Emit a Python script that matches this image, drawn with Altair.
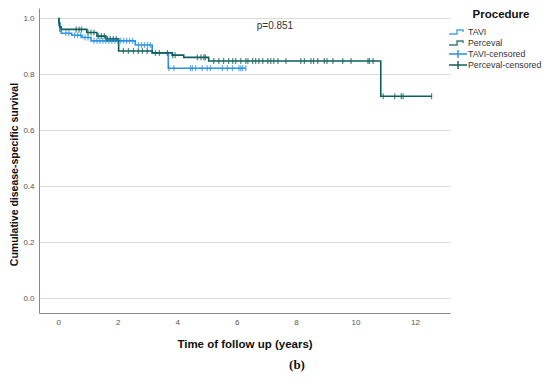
import altair as alt
import pandas as pd

# ---- data ----
tavi_time = [0, 0.02, 0.05, 0.10, 0.45, 0.80, 1.10, 2.59, 3.16, 3.70, 6.31]
tavi_surv = [1.0, 0.975, 0.955, 0.947, 0.940, 0.932, 0.920, 0.905, 0.877, 0.822, 0.822]

perc_time = [0, 0.02, 0.05, 0.10, 0.96, 1.30, 1.60, 2.03, 3.16, 3.83, 4.22, 5.06, 10.85, 12.56]
perc_surv = [1.0, 0.985, 0.970, 0.961, 0.950, 0.937, 0.927, 0.884, 0.877, 0.869, 0.861, 0.848, 0.722, 0.722]

tavi_cens = [0.25, 0.35, 0.55, 0.65, 0.75, 0.9, 1.0, 1.2, 1.3, 1.4, 1.5, 1.6, 1.7, 1.8, 1.9,
             2.0, 2.1, 2.2, 2.3, 2.4, 2.5, 2.7, 2.8, 2.9, 3.0, 3.1, 3.72, 3.89, 4.45, 4.51,
             4.62, 4.84, 5.01, 5.12, 5.52, 5.69, 5.86, 6.08, 6.14, 6.2, 6.31]
perc_cens = [0.6, 0.7, 0.78, 1.0, 1.1, 1.2, 1.35, 1.45, 1.55, 1.65, 1.75, 1.85, 1.95, 2.19,
             2.36, 2.53, 2.69, 2.83, 2.99, 3.27, 3.4, 3.67, 3.85, 3.93, 4.68, 4.8, 4.9, 4.95,
             5.23, 5.4, 5.56, 5.73, 5.87, 5.97, 6.14, 6.31, 6.38, 6.54, 6.64, 6.75, 6.88,
             7.05, 7.15, 7.25, 7.39, 7.66, 8.16, 8.28, 8.5, 8.59, 8.73, 8.95, 9.04, 9.24,
             9.57, 9.85, 10.42, 10.47, 10.59, 10.93, 11.32, 11.54, 11.6, 12.56]

groups = ["TAVI", "Perceval"]
legend_items = ["TAVI", "Perceval", "TAVI-censored", "Perceval-censored"]
legend_title = "Procedure"
x_ticks = [0, 2, 4, 6, 8, 10, 12]
y_ticks = [0.0, 0.2, 0.4, 0.6, 0.8, 1.0]
p_label = "p=0.851"


def step_value(times, surv, t):
    v = surv[0]
    for tt, ss in zip(times, surv):
        if tt <= t:
            v = ss
    return v


curve_rows = []
for g, ts, ss in [("TAVI", tavi_time, tavi_surv), ("Perceval", perc_time, perc_surv)]:
    for t, s in zip(ts, ss):
        curve_rows.append({"time": t, "surv": s, "group": g})
curves = pd.DataFrame(curve_rows)

cens_rows = []
for g, cs, ts, ss in [("TAVI", tavi_cens, tavi_time, tavi_surv),
                      ("Perceval", perc_cens, perc_time, perc_surv)]:
    for c in cs:
        cens_rows.append({"time": c, "surv": step_value(ts, ss, c), "group": g})
cens = pd.DataFrame(cens_rows)

leg = pd.DataFrame({"item": legend_items})

line_colors = ["#2b91e0", "#0e5f5c"]
xscale = alt.Scale(domain=[-0.65, 13.18], nice=False, zero=False)
yscale = alt.Scale(domain=[-0.053, 1.0375], nice=False, zero=False)

x_axis = alt.Axis(values=x_ticks, title="Time of follow up (years)", grid=False, ticks=False,
                  labelFontSize=8, labelColor="#555", labelPadding=5, labelFont="Liberation Sans",
                  domainColor="#8a8a8a", titleFont="Liberation Sans", titleFontSize=11.5,
                  titleFontWeight="bold", titleColor="#111", titlePadding=12)
y_axis = alt.Axis(values=y_ticks, format=".1f", title="Cumulative disease-specific survival",
                  grid=True, gridColor="#d9d9d9", ticks=False, labelFontSize=8, labelColor="#555",
                  labelPadding=5, labelFont="Liberation Sans", domainColor="#8a8a8a",
                  titleFont="Liberation Sans", titleFontSize=10.5, titleFontWeight="bold",
                  titleColor="#111", titlePadding=3, titleY=166)

color_lines = alt.Color("group:N", scale=alt.Scale(domain=groups, range=line_colors), legend=None)

lines = alt.Chart(curves).mark_line(interpolate="step-after", strokeWidth=1.6).encode(
    x=alt.X("time:Q", scale=xscale, axis=x_axis),
    y=alt.Y("surv:Q", scale=yscale, axis=y_axis),
    color=color_lines,
    detail="group:N",
)

ticks = alt.Chart(cens).mark_tick(orient="vertical", size=6, thickness=1.3).encode(
    x=alt.X("time:Q", scale=xscale),
    y=alt.Y("surv:Q", scale=yscale),
    color=color_lines,
)

p_text = alt.Chart(pd.DataFrame({"time": [7.29], "surv": [0.972], "label": [p_label]})).mark_text(
    font="Liberation Sans", fontSize=10, color="#333").encode(
    x=alt.X("time:Q", scale=xscale), y=alt.Y("surv:Q", scale=yscale), text="label:N")

main = alt.layer(lines, ticks, p_text)

# ---- legend (drawn as marks on its own row scale) ----
step_path = "M-2.25,0.5L-0.25,0.5L-0.25,-0.5L1.25,-0.5L1.25,0"
plus_path = "M-2.25,0L2.25,0M0,-1L0,1"
row_scale = alt.Scale(type="point", domain=legend_items, range=[24, 57], padding=0)

leg_symbols = alt.Chart(leg).mark_point(filled=False, size=64, strokeWidth=1.4, opacity=1).encode(
    x=alt.value(419),
    y=alt.Y("item:N", scale=row_scale, axis=None),
    color=alt.Color("item:N", scale=alt.Scale(domain=legend_items,
                    range=["#4aa3e8", "#3f7a78", "#2b91e0", "#0e5f5c"]), legend=None),
    shape=alt.Shape("item:N", scale=alt.Scale(domain=legend_items,
                    range=[step_path, step_path, plus_path, plus_path]), legend=None),
)
leg_labels = alt.Chart(leg).mark_text(align="left", font="Liberation Sans", fontSize=8.8,
                                      color="#333").encode(
    x=alt.value(429),
    y=alt.Y("item:N", scale=row_scale, axis=None),
    text="item:N",
)
leg_title = alt.Chart(pd.DataFrame({"label": [legend_title]})).mark_text(
    font="Liberation Sans", fontSize=11.5, fontWeight="bold", color="#111").encode(
    x=alt.value(462), y=alt.value(7), text="label:N")

legend_part = alt.layer(leg_symbols, leg_labels, leg_title)

caption = alt.Chart(pd.DataFrame({"label": ["(b)"]})).mark_text(
    font="Liberation Serif", fontSize=13, fontWeight="bold", color="#111").encode(
    x=alt.value(258), y=alt.value(357), text="label:N")

chart = alt.layer(main, legend_part, caption).resolve_scale(
    y="independent", color="independent", shape="independent"
).properties(
    width=411, height=305,
    autosize=alt.AutoSizeParams(type="none"),
    padding={"left": 31, "top": 0, "right": 92, "bottom": 62},
).configure_view(stroke=None)

chart.save("out.html", embed_options={"renderer": "svg", "actions": False})
